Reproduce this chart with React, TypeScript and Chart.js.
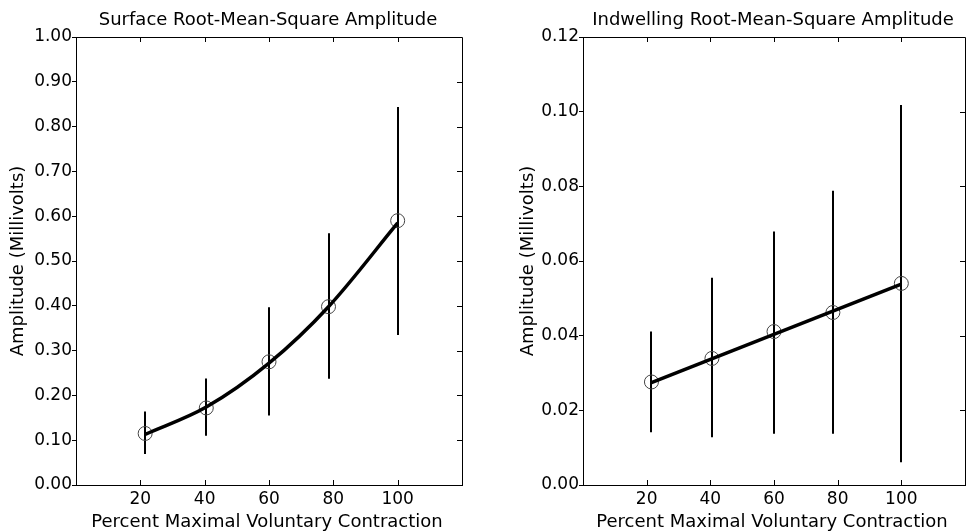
import React, { useEffect, useRef } from "react";
import { Chart, registerables } from "chart.js";

Chart.register(...registerables);

// ---- Data ----
const xPercent = [21.5, 40.5, 60, 78.5, 100];

const surfaceMean = [0.115, 0.172, 0.275, 0.398, 0.59];
const surfaceLow = [0.069, 0.11, 0.155, 0.237, 0.335];
const surfaceHigh = [0.164, 0.238, 0.397, 0.562, 0.844];
// fitted curve read at the measured points
const surfaceFit = [0.113, 0.174, 0.272, 0.398, 0.585];

const indwellMean = [0.0276, 0.0339, 0.0411, 0.0462, 0.054];
const indwellLow = [0.0141, 0.0128, 0.0137, 0.0137, 0.0061];
const indwellHigh = [0.0411, 0.0555, 0.0679, 0.0788, 0.1018];
// fitted straight line read at its two ends
const indwellFitX = [21.5, 100];
const indwellFit = [0.0274, 0.0538];

const xTicks = [20, 40, 60, 80, 100];
const surfaceTitle = "Surface Root-Mean-Square Amplitude";
const indwellTitle = "Indwelling Root-Mean-Square Amplitude";
const yTitle = "Amplitude (Millivolts)";
const xTitle = "Percent Maximal Voluntary Contraction";

const FONT = "'DejaVu Sans', sans-serif";

type PanelCfg = {
  mean: number[];
  low: number[];
  high: number[];
  fitX: number[];
  fit: number[];
  yMax: number;
  yStep: number;
  title: string;
  curved: boolean;
  yAxisWidth: number;
  yTitleX: number;
  canvasWidth: number;
  rightPad: number;
};

function makeChart(canvas: HTMLCanvasElement, cfg: PanelCfg) {
  const errorBars = {
    id: "errorBars",
    beforeDatasetsDraw(chart: any) {
      const ctx = chart.ctx;
      const xs = chart.scales.x;
      const ys = chart.scales.y;
      ctx.save();
      ctx.strokeStyle = "#000";
      ctx.lineWidth = 2;
      for (let i = 0; i < xPercent.length; i++) {
        const px = Math.round(xs.getPixelForValue(xPercent[i]));
        ctx.beginPath();
        ctx.moveTo(px, ys.getPixelForValue(cfg.low[i]));
        ctx.lineTo(px, ys.getPixelForValue(cfg.high[i]));
        ctx.stroke();
      }
      ctx.restore();
    },
  };

  const frame = {
    id: "frame",
    afterDraw(chart: any) {
      const ctx = chart.ctx;
      const a = chart.chartArea;
      const xs = chart.scales.x;
      const ys = chart.scales.y;
      ctx.save();
      ctx.strokeStyle = "#000";
      ctx.lineWidth = 1;
      ctx.beginPath();
      ctx.moveTo(Math.round(a.left) + 0.5, Math.round(a.top) + 0.5);
      ctx.lineTo(Math.round(a.right) + 0.5, Math.round(a.top) + 0.5);
      ctx.lineTo(Math.round(a.right) + 0.5, Math.round(a.bottom) + 0.5);
      ctx.stroke();
      for (const t of xTicks) {
        const px = Math.round(xs.getPixelForValue(t)) + 0.5;
        ctx.beginPath();
        ctx.moveTo(px, a.bottom);
        ctx.lineTo(px, a.bottom - 5);
        ctx.moveTo(px, a.top);
        ctx.lineTo(px, a.top + 5);
        ctx.stroke();
      }
      for (const tk of ys.ticks) {
        const py = Math.round(ys.getPixelForValue(tk.value)) + 0.5;
        ctx.beginPath();
        ctx.moveTo(a.right, py);
        ctx.lineTo(a.right - 5, py);
        ctx.stroke();
      }
      ctx.fillStyle = "#000";
      ctx.textAlign = "center";
      ctx.textBaseline = "alphabetic";
      const cx = (a.left + a.right) / 2;
      ctx.font = `18px ${FONT}`;
      ctx.fillText(cfg.title, cx - 1, 24.5);
      ctx.fillText(xTitle, cx - 2, 526.5);
      ctx.translate(cfg.yTitleX, (a.top + a.bottom) / 2);
      ctx.rotate(-Math.PI / 2);
      ctx.fillText(yTitle, 0, 0);
      ctx.restore();
    },
  };

  return new Chart(canvas, {
    type: "line",
    data: {
      datasets: [
        {
          data: cfg.fitX.map((x, i) => ({ x, y: cfg.fit[i] })),
          borderColor: "#000",
          borderWidth: 3.5,
          cubicInterpolationMode: cfg.curved ? "monotone" : "default",
          tension: 0,
          pointRadius: 0,
          fill: false,
        } as any,
        {
          data: xPercent.map((x, i) => ({ x, y: cfg.mean[i] })),
          showLine: false,
          pointRadius: 7,
          pointStyle: "circle",
          pointBackgroundColor: "rgba(0,0,0,0)",
          pointBorderColor: "#444",
          pointBorderWidth: 1,
          fill: false,
        } as any,
      ],
    },
    options: {
      responsive: false,
      animation: false,
      devicePixelRatio: 1,
      layout: { padding: { top: 37, right: cfg.rightPad, left: 0, bottom: 0 } },
      plugins: { legend: { display: false }, tooltip: { enabled: false }, title: { display: false } },
      scales: {
        x: {
          type: "linear",
          min: 0,
          max: 120,
          ticks: {
            stepSize: 20,
            color: "#000",
            font: { family: FONT, size: 17 },
            padding: 4,
            maxRotation: 0,
            callback: (v: any) => (v === 0 || v === 120 ? "" : String(v)),
          },
          grid: { drawOnChartArea: false, drawTicks: false },
          border: { display: true, color: "#000", width: 1 },
          afterFit: (s: any) => {
            s.height = 46;
          },
        },
        y: {
          type: "linear",
          min: 0,
          max: cfg.yMax,
          ticks: {
            stepSize: cfg.yStep,
            color: "#000",
            font: { family: FONT, size: 17 },
            padding: 0,
            callback: (v: any) => Number(v).toFixed(2),
          },
          grid: { drawOnChartArea: false, drawTicks: true, tickLength: 4, color: "#000" },
          border: { display: true, color: "#000", width: 1 },
          afterFit: (s: any) => {
            s.width = cfg.yAxisWidth;
          },
        },
      },
    },
    plugins: [errorBars, frame],
  });
}

function Panel({ cfg, left }: { cfg: PanelCfg; left: number }) {
  const ref = useRef<HTMLCanvasElement>(null);
  useEffect(() => {
    if (!ref.current) return;
    const c = makeChart(ref.current, cfg);
    return () => c.destroy();
  }, []);
  return (
    <canvas
      ref={ref}
      width={cfg.canvasWidth}
      height={531}
      style={{ position: "absolute", left, top: 0, width: cfg.canvasWidth, height: 531 }}
    />
  );
}

export default function App() {
  const leftCfg: PanelCfg = {
    mean: surfaceMean,
    low: surfaceLow,
    high: surfaceHigh,
    fitX: xPercent,
    fit: surfaceFit,
    yMax: 1.0,
    yStep: 0.1,
    title: surfaceTitle,
    curved: true,
    yAxisWidth: 76,
    yTitleX: 23,
    canvasWidth: 483,
    rightPad: 21,
  };
  const rightCfg: PanelCfg = {
    mean: indwellMean,
    low: indwellLow,
    high: indwellHigh,
    fitX: indwellFitX,
    fit: indwellFit,
    yMax: 0.12,
    yStep: 0.02,
    title: indwellTitle,
    curved: false,
    yAxisWidth: 100,
    yTitleX: 50,
    canvasWidth: 490,
    rightPad: 4,
  };
  return (
    <div
      style={{
        position: "fixed",
        left: 0,
        top: 0,
        width: 966,
        height: 531,
        overflow: "hidden",
        background: "#fff",
      }}
    >
      <Panel cfg={leftCfg} left={0} />
      <Panel cfg={rightCfg} left={483} />
    </div>
  );
}
